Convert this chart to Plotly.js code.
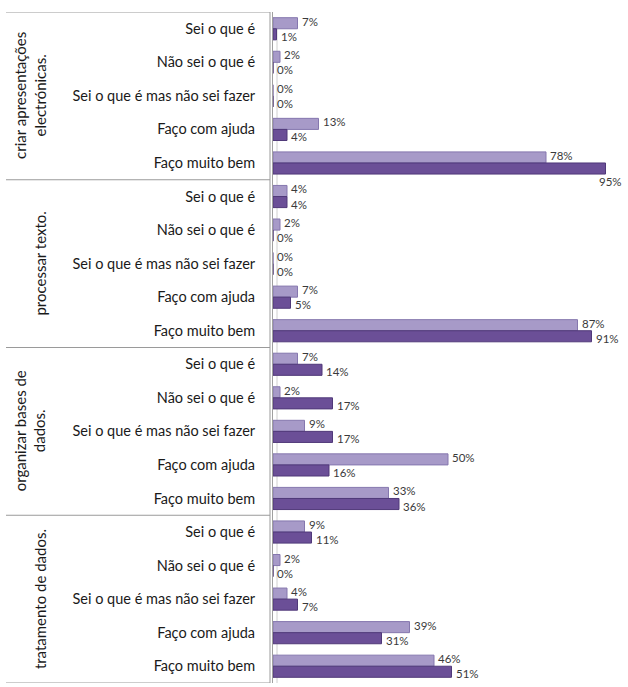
<!DOCTYPE html>
<html>
<head>
<meta charset="utf-8">
<script src="https://cdn.plot.ly/plotly-3.0.1.min.js"></script>
<style>html,body{margin:0;padding:0;background:#fff}#chart{width:628px;height:687px}</style>
</head>
<body>
<div id="chart"></div>
<script>
const categories = ["Sei o que é", "Não sei o que é", "Sei o que é mas não sei fazer", "Faço com ajuda", "Faço muito bem"];
const groups = ["criar apresentações<br>electrónicas.", "processar texto.", "organizar bases de<br>dados.", "tratamento de dados."];
const serie1 = [7, 2, 0, 13, 78,  4, 2, 0, 7, 87,  7, 2, 9, 50, 33,  9, 2, 4, 39, 46];
const serie2 = [1, 0, 0, 4, 95,  4, 0, 0, 5, 91,  14, 17, 17, 16, 36,  11, 0, 7, 31, 51];

const rows = [], tickText = [];
groups.forEach((g, gi) => categories.forEach((c, ci) => { rows.push(gi * categories.length + ci); tickText.push(c); }));
const nRows = rows.length;

const FONT = "Lato, 'Open Sans', sans-serif";
const textFont = {family: FONT, size: 11.5, color: '#3a3a3a'};
const BARGAP = 0.34;

const traces = [
  {type: 'bar', orientation: 'h', name: 'Série 1', y: rows, x: serie1,
   marker: {color: '#A79AC8', line: {color: '#8577AE', width: 1}}, hoverinfo: 'x'},
  {type: 'bar', orientation: 'h', name: 'Série 2', y: rows, x: serie2,
   marker: {color: '#6B4F97', line: {color: '#503979', width: 1}}, hoverinfo: 'x'}
];

const L = 273, W = 350;
const px = v => (v - L) / W;
const shapes = [];
for (let g = 0; g <= groups.length; g++) {
  const yb = g * categories.length - 0.5;
  shapes.push({type: 'line', xref: 'paper', yref: 'y', x0: px(6), x1: px(270), y0: yb, y1: yb,
               line: {color: '#9a9a9a', width: 1}});
}
shapes.push({type: 'line', xref: 'paper', yref: 'y', x0: px(270), x1: px(270), y0: -0.5, y1: nRows - 0.5,
             line: {color: '#9a9a9a', width: 1}});
shapes.push({type: 'line', xref: 'paper', yref: 'y', x0: px(277), x1: px(277), y0: -0.3, y1: nRows - 0.5,
             line: {color: '#d0d0d0', width: 1}, layer: 'below'});

const annotations = groups.map((g, gi) => ({
  xref: 'paper', yref: 'y', x: px(51), y: gi * categories.length + (categories.length - 1) / 2,
  text: g, showarrow: false, textangle: -90, xanchor: 'right', yanchor: 'middle', align: 'center',
  font: {family: FONT, size: 15, color: '#1a1a1a'}
}));

// value labels: light series sits in the upper half of each row, dark series in the lower half
const half = (1 - BARGAP) / 4;
[serie1, serie2].forEach((vals, si) => {
  vals.forEach((v, i) => {
    const nearEdge = v > 93;
    annotations.push({
      xref: 'x', yref: 'y', x: v, y: rows[i] + (si === 0 ? -half : half),
      text: v + '%', showarrow: false,
      xanchor: nearEdge ? 'right' : 'left', yanchor: 'middle',
      xshift: nearEdge ? 18 : 2, yshift: nearEdge ? -13 : (si === 0 ? 2 : -2),
      font: textFont
    });
  });
});

const layout = {
  width: 628, height: 687,
  margin: {l: L, r: 628 - L - W, t: 12, b: 4},
  paper_bgcolor: '#fff', plot_bgcolor: '#fff',
  barmode: 'group', bargap: BARGAP, bargroupgap: 0,
  showlegend: false,
  xaxis: {range: [0, 100], showgrid: false, zeroline: false, showticklabels: false, ticks: '', showline: false, fixedrange: true},
  yaxis: {range: [nRows - 0.5, -0.5], tickmode: 'array', tickvals: rows, ticktext: tickText,
          showgrid: false, zeroline: false, ticks: '', ticklabelstandoff: 14,
          showline: true, linecolor: '#a0a0a0', linewidth: 1,
          tickfont: {family: FONT, size: 14.5, color: '#1a1a1a'}, fixedrange: true},
  shapes: shapes, annotations: annotations
};

Plotly.newPlot('chart', traces, layout, {displayModeBar: false, staticPlot: true});
</script>
</body>
</html>
